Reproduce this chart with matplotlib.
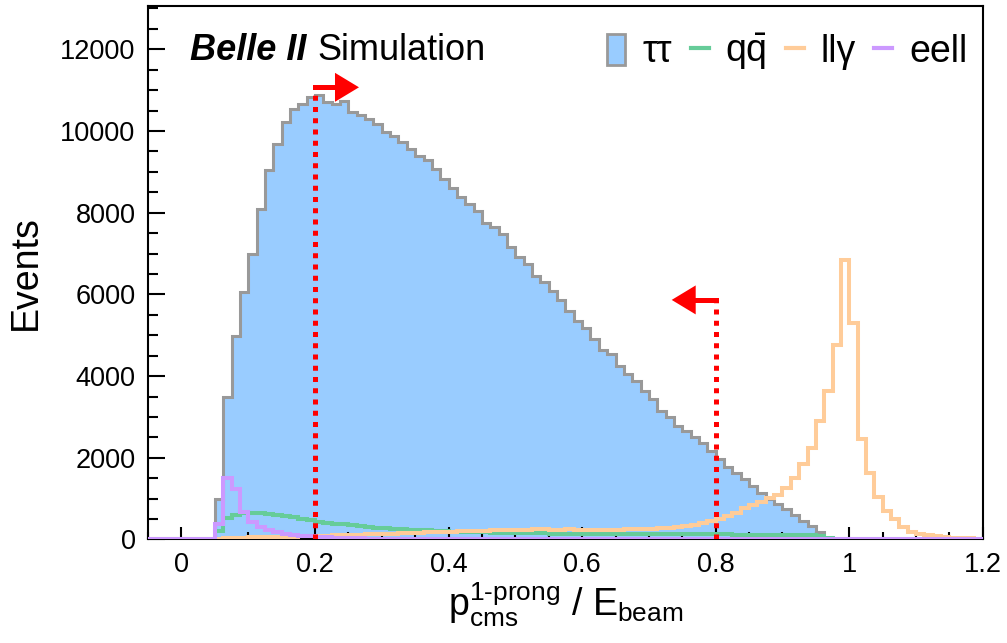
import numpy as np
import matplotlib
matplotlib.use("Agg")
import matplotlib.pyplot as plt
from matplotlib.patches import Patch
from matplotlib.lines import Line2D

plt.rcParams["font.family"] = ["Liberation Sans", "DejaVu Sans"]
plt.rcParams["mathtext.fontset"] = "custom"
plt.rcParams["mathtext.rm"] = "Liberation Sans"
plt.rcParams["mathtext.it"] = "Liberation Sans:italic"
plt.rcParams["mathtext.bf"] = "Liberation Sans:bold"

# ---------------------------------------------------------------
# Data: bin contents, bins of 0.0125 from -0.05
# ---------------------------------------------------------------
x_lo, x_hi, bin_w = -0.05, 1.2, 0.0125
first_bin = 0.05   # first filled bin for all samples

tautau = [1000, 3490, 4980, 6070, 6980, 8080, 9040, 9670, 10220, 10550,
          10650, 10840, 10890, 10710, 10670, 10730, 10470, 10400, 10290, 10160,
          9980, 9880, 9730, 9550, 9390, 9290, 9080, 8830, 8610, 8390,
          8220, 8040, 7760, 7650, 7490, 7160, 6910, 6735, 6450, 6300,
          6080, 5860, 5590, 5350, 5180, 4900, 4650, 4530, 4250, 4040,
          3880, 3630, 3430, 3140, 3005, 2790, 2650, 2510, 2370, 2160,
          1960, 1780, 1630, 1470, 1310, 1140, 1000, 880, 735, 610,
          450, 330, 180, 30, 15, 5]

qqbar = [200, 520, 600, 640, 650, 645, 630, 605, 575, 540,
         500, 470, 440, 415, 390, 370, 350, 330, 310, 290,
         275, 260, 250, 240, 230, 220, 210, 200, 195, 190,
         185, 180, 175, 170, 165, 160, 158, 155, 150, 148,
         145, 142, 140, 138, 135, 133, 132, 130, 130, 128,
         128, 127, 126, 126, 125, 125, 124, 124, 123, 123,
         122, 122, 121, 121, 120, 120, 120, 118, 118, 115,
         110, 100, 80, 40, 15, 5]

llgamma = [15, 25, 30, 40, 50, 55, 60, 65, 70, 72,
           78, 85, 90, 95, 100, 105, 110, 118, 122, 130,
           135, 142, 150, 158, 165, 172, 180, 188, 195, 200,
           205, 210, 212, 220, 225, 232, 240, 236, 245, 250,
           242, 238, 245, 235, 232, 238, 228, 235, 240, 245,
           250, 258, 265, 272, 285, 300, 327, 351, 408, 449,
           506, 571, 653, 776, 833, 920, 1020, 1080, 1250, 1500,
           1840, 2245, 2898, 3632, 4751, 6841, 5290, 2466, 1633, 1037,
           694, 490, 310, 180, 122, 98, 80, 60, 45, 35,
           25, 20]

eell = [380, 1500, 1240, 680, 440, 300, 225, 175, 140, 115,
        95, 80, 65, 55, 45, 38, 32, 27, 22, 18,
        15, 12, 10, 8, 6, 5, 4, 3, 3, 2]

cuts = [0.2, 0.8]
cut_dirs = [1, -1]
cut_tops = [11070, 5865]

x_ticks = [0, 0.2, 0.4, 0.6, 0.8, 1.0, 1.2]
x_ticklabels = ["0", "0.2", "0.4", "0.6", "0.8", "1", "1.2"]
y_ticks = [0, 2000, 4000, 6000, 8000, 10000, 12000]

c_tt, c_tt_edge = "#99ccff", "#999999"
c_qq, c_ll, c_ee = "#66cc99", "#ffcc99", "#cc99ff"

edges = np.round(np.arange(x_lo, x_hi + bin_w / 2, bin_w), 4)
nbins = len(edges) - 1
start = int(round((first_bin - x_lo) / bin_w))


def pad(vals):
    out = np.zeros(nbins)
    out[start:start + len(vals)] = vals
    return out


# ---------------------------------------------------------------
# Plot
# ---------------------------------------------------------------
fig = plt.figure(figsize=(10.07, 6.43), dpi=100)
ax = fig.add_axes([0.147, 0.161, 0.829, 0.829])

ax.stairs(pad(tautau), edges, fill=True, color=c_tt, zorder=1)
ax.stairs(pad(tautau), edges, color=c_tt_edge, lw=2.2, zorder=2)
ax.stairs(pad(qqbar), edges, color=c_qq, lw=2.9, zorder=3)
ax.stairs(pad(llgamma), edges, color=c_ll, lw=2.9, zorder=4)
ax.stairs(pad(eell), edges, color=c_ee, lw=2.9, zorder=5)

# cut lines with arrows
px_x = (x_hi - x_lo) / (0.829 * 1007)
px_y = 13050 / (0.829 * 643)
for cut, d, top in zip(cuts, cut_dirs, cut_tops):
    ax.plot([cut, cut], [0, top], color="red", lw=3.6,
            ls=(0, (1.0, 1.25)), solid_capstyle="butt", zorder=6)
    base = cut + d * 20 * px_x
    tip = cut + d * 44 * px_x
    ax.plot([cut, base], [top, top], color="red", lw=3.6, zorder=6)
    ax.fill([base, tip, base], [top - 14.5 * px_y, top, top + 14.5 * px_y],
            color="red", lw=0, zorder=6)

ax.set_xlim(x_lo, x_hi)
ax.set_ylim(0, 13050)
ax.set_xticks(x_ticks)
ax.set_xticklabels(x_ticklabels)
ax.set_yticks(y_ticks)
ax.set_xticks(np.arange(-0.05, 1.2001, 0.05), minor=True)
ax.set_yticks(np.arange(0, 13001, 500), minor=True)
ax.tick_params(which="both", direction="in", top=False, right=False,
               labelsize=19.5, width=1.5, pad=9)
ax.tick_params(which="major", length=9)
ax.tick_params(axis="y", which="major", length=12)
ax.tick_params(which="minor", length=5)
ax.tick_params(axis="y", which="minor", length=7)
for s in ax.spines.values():
    s.set_linewidth(1.5)

ax.set_ylabel("Events", fontsize=27, labelpad=12)
ax.set_xlabel("$\\mathrm{p_{cms}^{1\u2010prong}}$ / E$_{\\mathrm{beam}}$",
              fontsize=27, labelpad=2)

t1 = ax.text(0.0503, 0.8996, "Belle II", transform=ax.transAxes, fontsize=26,
             fontweight="bold", fontstyle="italic", va="baseline")
ax.annotate("Simulation", xy=(1, 0), xycoords=t1, xytext=(8, 0),
            textcoords="offset points", fontsize=26, va="bottom")

handles = [Patch(facecolor=c_tt, edgecolor=c_tt_edge, lw=2),
           Line2D([], [], color=c_qq, lw=3),
           Line2D([], [], color=c_ll, lw=3),
           Line2D([], [], color=c_ee, lw=3)]
labels = ["\u03c4\u03c4", "q$\\bar{\\mathrm{q}}$", "ll\u03b3", "eell"]
ax.legend(handles, labels, ncol=4, loc="upper right", frameon=False,
          fontsize=27, bbox_to_anchor=(0.9817, 0.952), borderaxespad=0,
          borderpad=0, handlelength=0.48, handleheight=0.9,
          handletextpad=0.45, columnspacing=0.5)

fig.savefig("out.png", dpi=100)
